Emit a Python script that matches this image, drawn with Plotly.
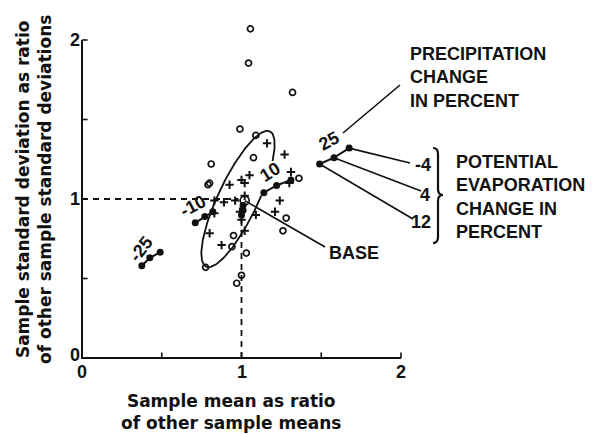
import numpy as np
import plotly.graph_objects as go

# ---------------- data ----------------
# open circles: individual samples
open_x = [1.056, 1.044, 1.32, 0.99, 1.09, 0.81, 1.075, 0.79, 1.36, 1.28, 1.26,
          0.95, 0.94, 1.03, 0.775, 1.00, 0.97, 0.80]
open_y = [2.07, 1.855, 1.67, 1.44, 1.40, 1.22, 1.26, 1.09, 1.13, 0.88, 0.80,
          0.77, 0.70, 0.66, 0.57, 0.52, 0.47, 1.10]
# crosses: other samples
cross_x = [1.16, 1.27, 1.31, 1.05, 1.02, 0.925, 1.02, 0.89, 0.83, 1.24, 1.21,
           0.99, 1.00, 1.02, 1.09, 0.875, 0.80, 0.83, 1.00, 0.96, 1.30]
cross_y = [1.35, 1.28, 1.17, 1.15, 1.10, 1.09, 1.02, 0.98, 0.99, 0.99, 0.92,
           0.92, 0.87, 0.80, 0.90, 0.71, 0.785, 0.91, 1.12, 0.99, 1.10]
# filled dots: precipitation change groups, potential evaporation change -4, 4, 12 %
pe_change = [-4, 4, 12]
precip_labels = ["25", "10", "-10", "-25"]
p25_x = [1.675, 1.58, 1.49]
p25_y = [1.32, 1.26, 1.22]
p10_x = [1.31, 1.22, 1.14]
p10_y = [1.12, 1.085, 1.04]
pm10_x = [0.82, 0.77, 0.71]
pm10_y = [0.92, 0.89, 0.85]
pm25_x = [0.49, 0.425, 0.375]
pm25_y = [0.665, 0.63, 0.58]
p0_x = [1.01, 1.01, 1.00]
p0_y = [0.96, 0.93, 0.90]
base_x = [1.02]
base_y = [0.99]
# ellipse outlining the samples (centre, semi-axes, tilt)
ell_cx, ell_cy, ell_a, ell_b, ell_deg = 0.978, 1.0, 0.47, 0.125, 64.8
# axis ticks
tick_vals = [0, 0.5, 1, 1.5, 2]
tick_text = ["0", "", "1", "", "2"]

# ---------------- layout helpers ----------------
W, H = 609, 434
SX, SY = 159.5, 159.0          # pixels per unit
X0 = -82 / SX                   # x value at left edge
Y1 = 358 / SY                   # y value at top edge
XR = [X0, X0 + W / SX]
YR = [Y1 - H / SY, Y1]


def fx(px):
    return X0 + px / SX


def fy(py):
    return Y1 - py / SY


INK = "#111111"
HEAD = dict(family="Liberation Sans, Arial, sans-serif", size=18, color=INK, weight="bold")
AXF = dict(family="DejaVu Sans, Verdana, sans-serif", size=17, color=INK, weight="bold")

fig = go.Figure()

# ellipse (open where the "10" label sits)
t = np.radians(np.linspace(-49, 280, 200))
th = np.radians(ell_deg)
ex = ell_cx + ell_a * np.cos(t) * np.cos(th) - ell_b * np.sin(t) * np.sin(th)
ey = ell_cy + ell_a * np.cos(t) * np.sin(th) + ell_b * np.sin(t) * np.cos(th)
fig.add_trace(go.Scatter(x=ex, y=ey, mode="lines", line=dict(color=INK, width=1.8),
                         hoverinfo="skip", showlegend=False))

# dashed reference lines at 1
fig.add_trace(go.Scatter(x=[0, 0.98], y=[1, 1], mode="lines",
                         line=dict(color=INK, width=1.8, dash="6px,5px"), showlegend=False))
fig.add_trace(go.Scatter(x=[1, 1], y=[0, 0.97], mode="lines",
                         line=dict(color=INK, width=1.8, dash="6px,5px"), showlegend=False))

# axes lines and ticks
fig.add_trace(go.Scatter(x=[0, 0, 2], y=[2, 0, 0], mode="lines",
                         line=dict(color=INK, width=2), showlegend=False))
for v in tick_vals[1:]:
    fig.add_trace(go.Scatter(x=[v, v], y=[0, 0.035], mode="lines",
                             line=dict(color=INK, width=1.6), showlegend=False))
    fig.add_trace(go.Scatter(x=[0, 0.035], y=[v, v], mode="lines",
                             line=dict(color=INK, width=1.6), showlegend=False))

# samples
fig.add_trace(go.Scatter(x=open_x, y=open_y, mode="markers", cliponaxis=False,
                         marker=dict(symbol="circle-open", size=6, color=INK, line=dict(width=1.7)),
                         showlegend=False))
fig.add_trace(go.Scatter(x=cross_x, y=cross_y, mode="markers", cliponaxis=False,
                         marker=dict(symbol="cross-thin", size=6, color=INK, line=dict(width=2, color=INK)),
                         showlegend=False))

# precipitation groups
for gx, gy in [(p25_x, p25_y), (p10_x, p10_y), (pm10_x, pm10_y), (pm25_x, pm25_y), (p0_x, p0_y)]:
    fig.add_trace(go.Scatter(x=gx, y=gy, mode="lines+markers", cliponaxis=False,
                             line=dict(color=INK, width=2),
                             marker=dict(symbol="circle", size=7, color=INK),
                             showlegend=False))

# base point
fig.add_trace(go.Scatter(x=base_x, y=base_y, mode="markers", cliponaxis=False,
                         marker=dict(symbol="circle-open", size=9, color=INK, line=dict(width=1.6)),
                         showlegend=False))

# leader lines
leaders = [
    ([base_x[0], fx(325)], [base_y[0], fy(247)]),           # BASE
    ([fx(343), fx(400)], [fy(133), fy(85)]),                 # 25 -> precipitation
    ([p25_x[0], fx(410)], [p25_y[0], fy(163)]),              # -4
    ([p25_x[1], fx(421)], [p25_y[1], fy(191)]),              # 4
    ([p25_x[2], fx(413)], [p25_y[2], fy(219)]),              # 12
]
for lx, ly in leaders:
    fig.add_trace(go.Scatter(x=lx, y=ly, mode="lines", line=dict(color=INK, width=1.6),
                             showlegend=False))

# brace
bx0, bx1, btip = fx(433), fx(438), fx(443)
byt, bym, byb = fy(148), fy(195), fy(243)
d = 6 / SY
brace = (f"M{bx0},{byt} Q{bx1},{byt} {bx1},{byt - d} L{bx1},{bym + d} "
         f"Q{bx1},{bym} {btip},{bym} Q{bx1},{bym} {bx1},{bym - d} "
         f"L{bx1},{byb + d} Q{bx1},{byb} {bx0},{byb}")
fig.add_shape(type="path", path=brace, xref="x", yref="y", line=dict(color=INK, width=2.2))

ann = []
# tick labels
for v, s in zip(tick_vals, tick_text):
    if s:
        ann.append(dict(x=v, y=fy(372), text=s, showarrow=False, font=HEAD))
        ann.append(dict(x=fx(75), y=v + (0 if v else 3 / SY), text=s, showarrow=False, font=HEAD))
# axis titles
ann.append(dict(x=fx(231), y=fy(412), text="Sample mean as ratio<br>of other sample means",
                showarrow=False, font=AXF, align="center"))
ann.append(dict(x=fx(34), y=fy(190), text="Sample standard deviation as ratio<br>of other sample standard deviations",
                showarrow=False, font=AXF, align="center", textangle=-90))
# group labels
for txt, px, py, ang in zip(precip_labels, [329, 270, 193, 141], [141, 172, 206, 249], [-28, -32, -28, -52]):
    ann.append(dict(x=fx(px), y=fy(py), text=txt, showarrow=False, font=HEAD, textangle=ang))
# right-hand texts
ann.append(dict(x=fx(408), y=fy(42), text="PRECIPITATION<br>CHANGE<br>IN PERCENT", showarrow=False,
                font=HEAD, align="left", xanchor="left", yanchor="top"))
ann.append(dict(x=fx(454), y=fy(150), text="POTENTIAL<br>EVAPORATION<br>CHANGE IN<br>PERCENT", showarrow=False,
                font=HEAD, align="left", xanchor="left", yanchor="top"))
ann.append(dict(x=fx(327), y=fy(253), text="BASE", showarrow=False, font=HEAD, xanchor="left"))
for txt, px, py in zip(["-4", "4", "12"], [423, 425, 421], [165, 195, 222]):
    ann.append(dict(x=fx(px), y=fy(py), text=txt, showarrow=False, font=HEAD))

fig.update_layout(
    width=W, height=H, margin=dict(l=0, r=0, t=0, b=0),
    paper_bgcolor="white", plot_bgcolor="white",
    xaxis=dict(range=XR, visible=False, fixedrange=True),
    yaxis=dict(range=YR, visible=False, fixedrange=True),
    annotations=ann, showlegend=False,
)
fig.write_html("out.html")
